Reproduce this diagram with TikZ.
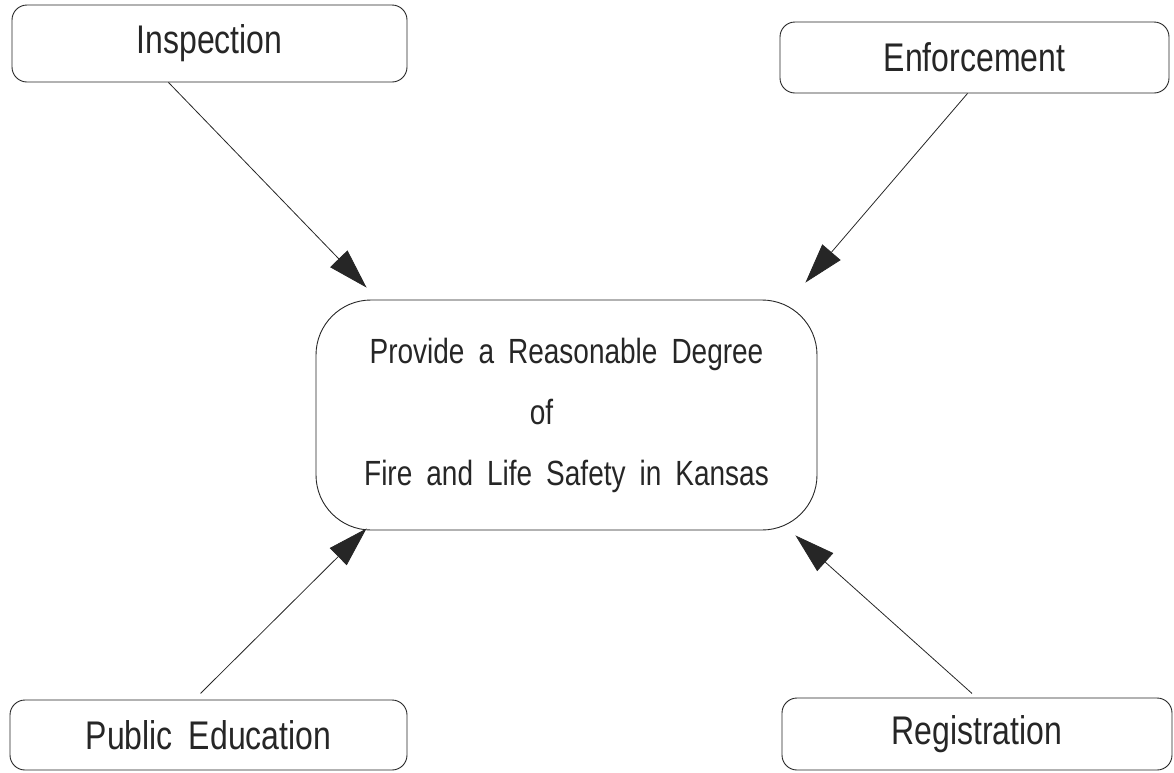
\documentclass[tikz,border=0pt]{standalone}
\usepackage{fontspec}
\setmainfont{Liberation Sans}[FakeStretch=0.8, WordSpace=1.8]
\usetikzlibrary{arrows.meta,calc}
\tikzset{
  smallbox/.style={draw=black!85, line width=0.9pt, rounded corners=15pt, inner sep=0pt,
    text=black!85, font=\fontsize{40}{46}\selectfont},
  goalbox/.style={draw=black!85, line width=0.9pt, rounded corners=55pt, inner sep=0pt,
    text=black!85, align=center, font=\fontsize{35}{61}\selectfont},
  link/.style={draw=black!85, line width=0.8pt, -{Triangle[length=40pt,width=24pt]}}
}
\begin{document}
\begin{tikzpicture}[x=1pt,y=-1pt]
\useasboundingbox (0,0) rectangle (1174,772);
\node[smallbox, minimum width=395pt, minimum height=77pt] (insp) at (209.5,43.5) {Inspection};
\node[smallbox, minimum width=389pt, minimum height=71pt] (enf) at (974.5,57.5) {Enforcement};
\node[smallbox, minimum width=397pt, minimum height=70pt] (pub) at (208.5,735) {Public Education};
\node[smallbox, minimum width=390pt, minimum height=72pt] (reg) at (977,734) {Registration};
\node[goalbox, minimum width=501pt, minimum height=230pt] (goal) at (566.5,415)
  {Provide a Reasonable Degree\\ of\rule{50pt}{0pt}\\ Fire and Life Safety in Kansas};
\draw[link] ($(insp.south)+(-41,0)$) -- ($(goal.north west)+(51,-12)$);
\draw[link] ($(enf.south)+(-7,0)$) -- ($(goal.north east)+(-12,-17)$);
\draw[link] ($(pub.south)+(-8,-77)$) -- ($(goal.south west)+(51,-2)$);
\draw[link] ($(reg.south)+(-5,-77)$) -- ($(goal.south east)+(-22,5)$);
\end{tikzpicture}
\end{document}
